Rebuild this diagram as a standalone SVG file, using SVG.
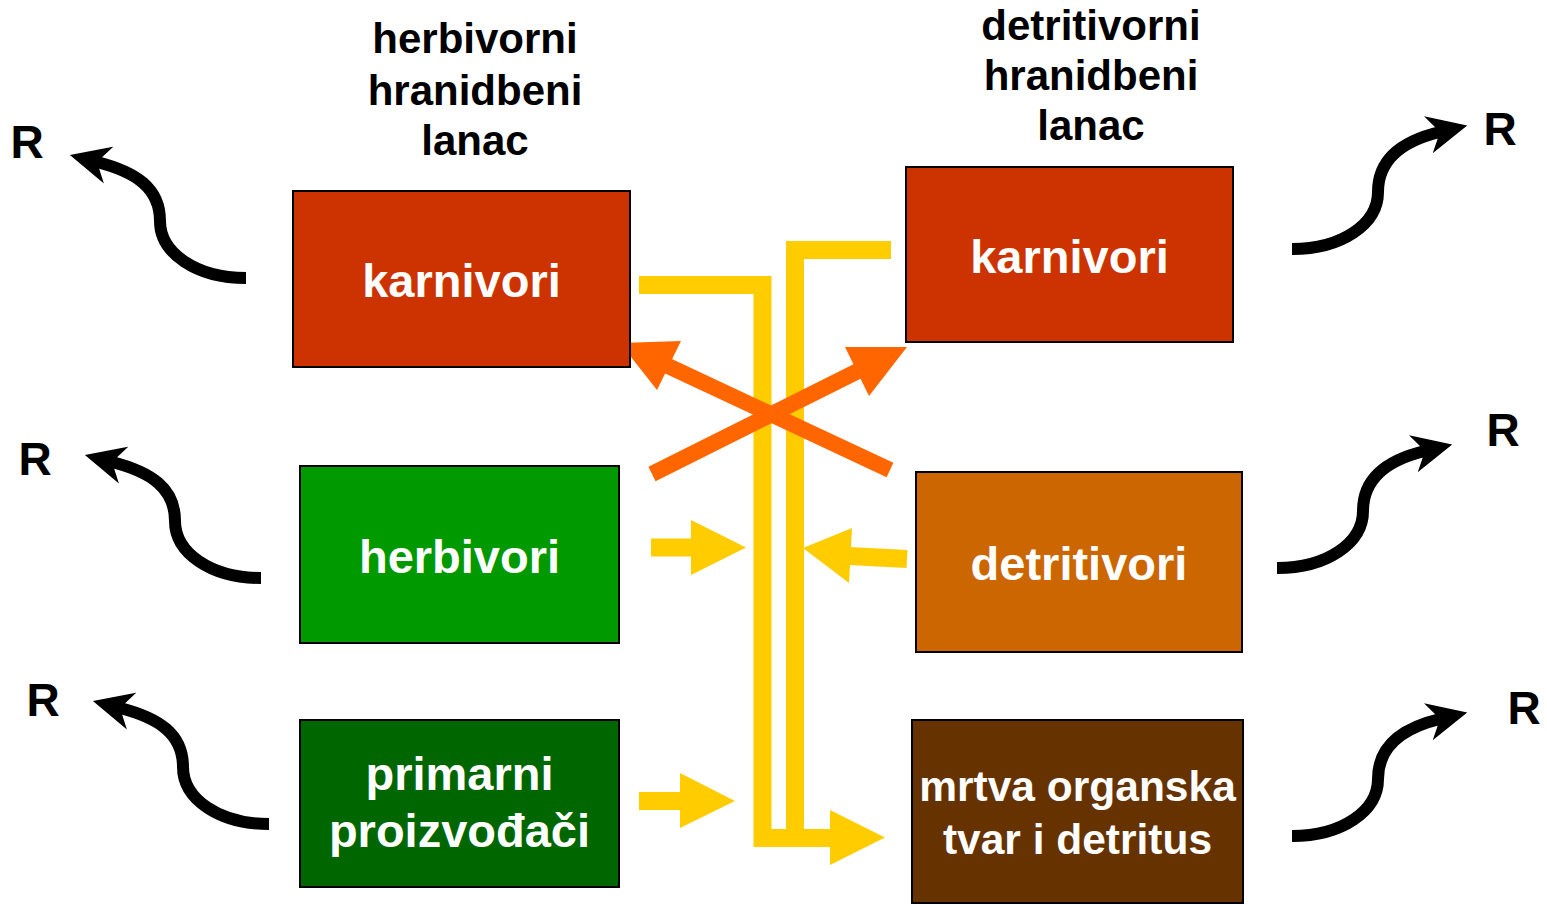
<svg xmlns="http://www.w3.org/2000/svg" width="1547" height="905" viewBox="0 0 1547 905">
<style>
.box{stroke:#000;stroke-width:2}
.bt{font-family:"Liberation Sans",Arial,sans-serif;font-weight:bold;font-size:47px;fill:#fff;text-anchor:middle}
.bt2{font-family:"Liberation Sans",Arial,sans-serif;font-weight:bold;font-size:42.5px;fill:#fff;text-anchor:middle}
.tt{font-family:"Liberation Sans",Arial,sans-serif;font-weight:bold;font-size:42px;fill:#000;text-anchor:middle}
.r{font-family:"Liberation Sans",Arial,sans-serif;font-weight:bold;font-size:46px;fill:#000;text-anchor:middle}
.y{fill:none;stroke:#FFCC00;stroke-width:18;stroke-linejoin:miter}
.yh{fill:#FFCC00}
.o{fill:none;stroke:#FF6600;stroke-width:16}
.oh{fill:#FF6600}
.c{fill:none;stroke:#000;stroke-width:12;marker-end:url(#ah)}
</style>
<defs>
<marker id="ah" markerUnits="userSpaceOnUse" viewBox="0 -20 40 40" refX="12" refY="0" markerWidth="40" markerHeight="40" orient="auto">
<path d="M40,0 L0,-19 L12,0 L0,19 Z" fill="#000"/>
</marker>
</defs>
<rect width="1547" height="905" fill="#fff"/>

<g id="title-left">
<text class="tt" x="475" y="53">herbivorni</text>
<text class="tt" x="475" y="105">hranidbeni</text>
<text class="tt" x="475" y="155">lanac</text>
</g>
<g id="title-right">
<text class="tt" x="1091" y="40">detritivorni</text>
<text class="tt" x="1091" y="90">hranidbeni</text>
<text class="tt" x="1091" y="140">lanac</text>
</g>

<g id="connectors">
<path class="y" d="M639,285 H762.5 V838 H831"/>
<path class="y" d="M891,250 H795 V838"/>
<polygon class="yh" points="830,810 885,837.5 830,865"/>
<path class="y" d="M651,547.5 H692"/>
<polygon class="yh" points="691,520 746,547.5 691,575"/>
<path class="y" d="M639,801 H681"/>
<polygon class="yh" points="680,773 735,801 680,828"/>
<path class="y" d="M907,559 L849,556"/>
<polygon class="yh" points="852,528 803,548 849,583"/>
<path class="o" d="M652,474 L858,371"/>
<polygon class="oh" points="907,347 845,347 869,396"/>
<path class="o" d="M890,470 L668,366"/>
<polygon class="oh" points="620,343 681,341 657,390"/>
<path class="c" transform="translate(246,278)" d="M0,0 C-50,0 -86,-25 -86,-57 C-86,-90 -110,-106 -149,-116"/>
<path class="c" transform="translate(261,578)" d="M0,0 C-50,0 -86,-25 -86,-57 C-86,-90 -110,-106 -149,-116"/>
<path class="c" transform="translate(269,824)" d="M0,0 C-50,0 -86,-25 -86,-57 C-86,-90 -110,-106 -149,-116"/>
<path class="c" transform="translate(1292,249)" d="M0,0 C50,0 86,-25 86,-57 C86,-90 110,-108 148,-117"/>
<path class="c" transform="translate(1277,568)" d="M0,0 C50,0 86,-25 86,-57 C86,-90 110,-108 148,-117"/>
<path class="c" transform="translate(1292,836)" d="M0,0 C50,0 86,-25 86,-57 C86,-90 110,-108 148,-117"/>
</g>

<g id="r-labels">
<text class="r" x="27" y="158">R</text>
<text class="r" x="35" y="475">R</text>
<text class="r" x="43" y="716">R</text>
<text class="r" x="1500" y="145">R</text>
<text class="r" x="1503" y="446">R</text>
<text class="r" x="1524" y="724">R</text>
</g>

<g id="karnivori-left">
<rect class="box" x="293" y="191" width="337" height="176" fill="#CC3300"/>
<text class="bt" x="461.5" y="297">karnivori</text>
</g>
<g id="herbivori">
<rect class="box" x="300" y="466" width="319" height="177" fill="#009900"/>
<text class="bt" x="459.5" y="573">herbivori</text>
</g>
<g id="primarni">
<rect class="box" x="300" y="720" width="319" height="167" fill="#006600"/>
<text class="bt" x="459.5" y="790">primarni</text>
<text class="bt" x="459.5" y="847">proizvođači</text>
</g>
<g id="karnivori-right">
<rect class="box" x="906" y="167" width="327" height="175" fill="#CC3300"/>
<text class="bt" x="1069.5" y="273">karnivori</text>
</g>
<g id="detritivori">
<rect class="box" x="916" y="472" width="326" height="180" fill="#CC6600"/>
<text class="bt" x="1079" y="580">detritivori</text>
</g>
<g id="mrtva">
<rect class="box" x="912" y="720" width="331" height="183" fill="#663300"/>
<text class="bt2" x="1077.5" y="801">mrtva organska</text>
<text class="bt2" x="1077.5" y="854">tvar i detritus</text>
</g>
</svg>
